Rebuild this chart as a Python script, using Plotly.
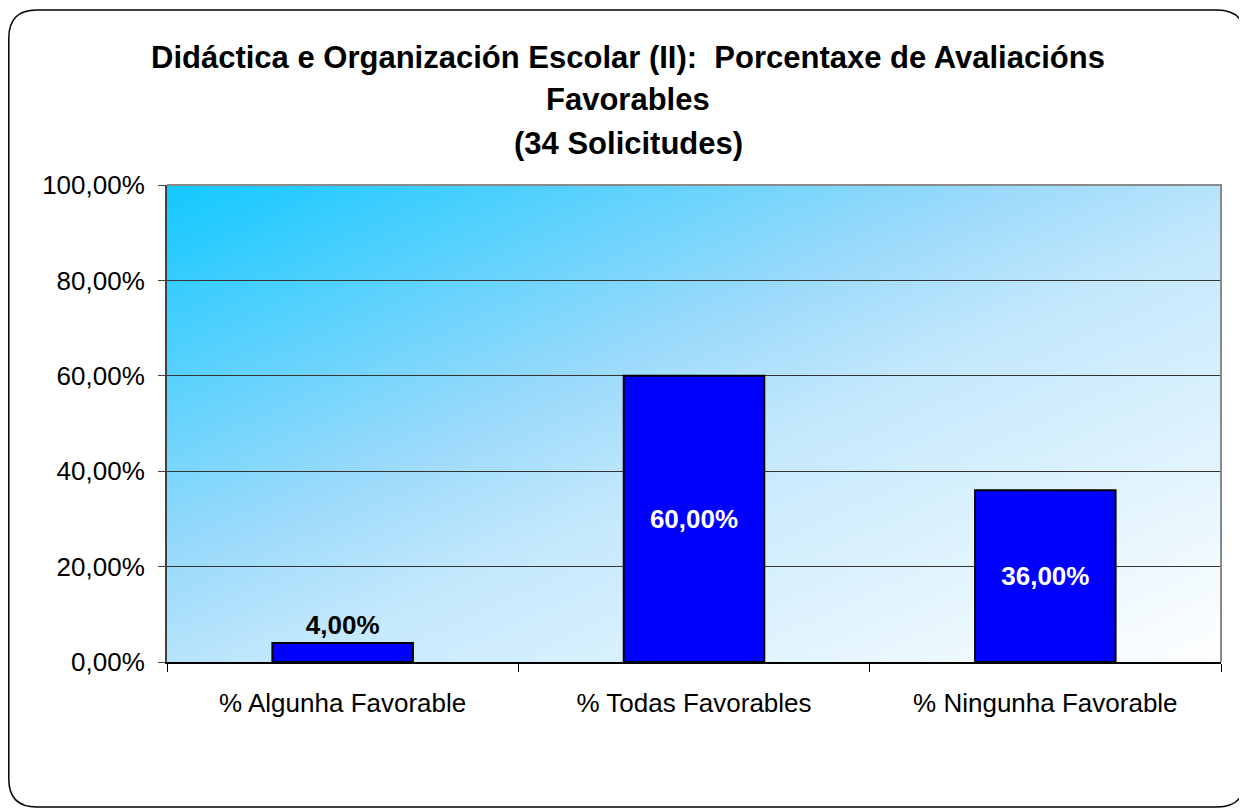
import base64
import plotly.graph_objects as go

# ---- data ----
categories = ["% Algunha Favorable", "% Todas Favorables", "% Ningunha Favorable"]
values = [4.0, 60.0, 36.0]
label_positions = ["outside", "inside", "inside"]
label_colors = ["black", "white", "white"]
y_tickvals = [0, 20, 40, 60, 80, 100]
y_ticktext = ["0,00%", "20,00%", "40,00%", "60,00%", "80,00%", "100,00%"]
title_lines = [
    "Didáctica e Organización Escolar (II):\u00a0 Porcentaxe de Avaliacións",
    "Favorables",
    "(34 Solicitudes)",
]

# ---- geometry (page has an 8px body margin) ----
OFF = 8
FW, FH = 1247 - OFF, 809 - OFF
ML, MR, MT, MB = 167 - OFF, 26, 185 - OFF, 147
PW, PH = FW - ML - MR, FH - MT - MB

def px_to_paper(px, py):
    return (px - ML) / PW, (FH - MB - py) / PH

# gradient background as svg image
svg = """<svg xmlns='http://www.w3.org/2000/svg' width='400' height='200' preserveAspectRatio='none' viewBox='0 0 1 1'>
<defs><linearGradient id='g' x1='0' y1='0' x2='1' y2='1'>
<stop offset='0' stop-color='rgb(18,200,255)'/>
<stop offset='0.4' stop-color='rgb(155,218,251)'/>
<stop offset='0.55' stop-color='rgb(195,232,252)'/>
<stop offset='1' stop-color='rgb(255,255,255)'/>
</linearGradient></defs>
<rect x='0' y='0' width='1' height='1' fill='url(#g)'/></svg>"""
img_src = "data:image/svg+xml;base64," + base64.b64encode(svg.encode()).decode()

fig = go.Figure()
fig.add_trace(go.Bar(
    x=categories,
    y=values,
    marker=dict(color="#0000FF", line=dict(color="black", width=2)),
    texttemplate="<b>%{y:.2f}%</b>",
    textposition=label_positions,
    insidetextanchor="middle",
    textfont=dict(size=26, color=label_colors, family="Liberation Sans, Arial"),
    cliponaxis=False,
    width=0.4,
))

# rounded outer border
x0, y0, x1, y1, r = 0.8, 2, 1237, 799, 28
def P(px, py):
    a, b = px_to_paper(px, py)
    return f"{a:.5f},{b:.5f}"
path = (f"M {P(x0 + r, y0)} L {P(x1 - r, y0)} Q {P(x1, y0)} {P(x1, y0 + r)} "
        f"L {P(x1, y1 - r)} Q {P(x1, y1)} {P(x1 - r, y1)} "
        f"L {P(x0 + r, y1)} Q {P(x0, y1)} {P(x0, y1 - r)} "
        f"L {P(x0, y0 + r)} Q {P(x0, y0)} {P(x0 + r, y0)} Z")

shapes = [
    dict(type="path", xref="paper", yref="paper", path=path,
         line=dict(color="black", width=1.5), fillcolor="rgba(0,0,0,0)", layer="below"),
    dict(type="path", xref="paper", yref="paper", path="M 0,1 L 1,1 L 1,0",
         line=dict(color="#8a8a8a", width=2), layer="above"),
]

# title lines as annotations (screen y centres of each line)
title_y_screen = [57, 100, 144]
annotations = []
for line, ys in zip(title_lines, title_y_screen):
    ax, ay = px_to_paper(628 - OFF, ys - OFF)
    annotations.append(dict(
        text="<b>" + line + "</b>", xref="paper", yref="paper", x=ax, y=ay,
        xanchor="center", yanchor="middle", showarrow=False,
        font=dict(size=31, family="Liberation Sans, Arial", color="black"),
    ))

fig.update_layout(
    width=FW, height=FH,
    margin=dict(l=ML, r=MR, t=MT, b=MB),
    paper_bgcolor="white",
    plot_bgcolor="rgba(0,0,0,0)",
    separators=",.",
    showlegend=False,
    font=dict(family="Liberation Sans, Arial", color="black", size=26),
    annotations=annotations,
    images=[dict(source=img_src, xref="paper", yref="paper", x=0, y=1,
                 sizex=1, sizey=1, sizing="stretch", layer="below",
                 xanchor="left", yanchor="top")],
    shapes=shapes,
    xaxis=dict(
        showgrid=False, showline=True, linecolor="black", linewidth=1.5,
        ticks="outside", ticklen=8, tickcolor="black", tickson="boundaries",
        tickfont=dict(size=26), ticklabelstandoff=17,
        range=[-0.5, 2.5],
    ),
    yaxis=dict(
        range=[0, 100], tickvals=y_tickvals, ticktext=y_ticktext,
        showgrid=True, gridcolor="#333333", gridwidth=1,
        showline=True, linecolor="#404040", linewidth=2,
        ticks="outside", ticklen=7, tickcolor="#404040",
        tickfont=dict(size=26), ticklabelstandoff=8,
        zeroline=False,
    ),
)

fig.write_html("out.html")
